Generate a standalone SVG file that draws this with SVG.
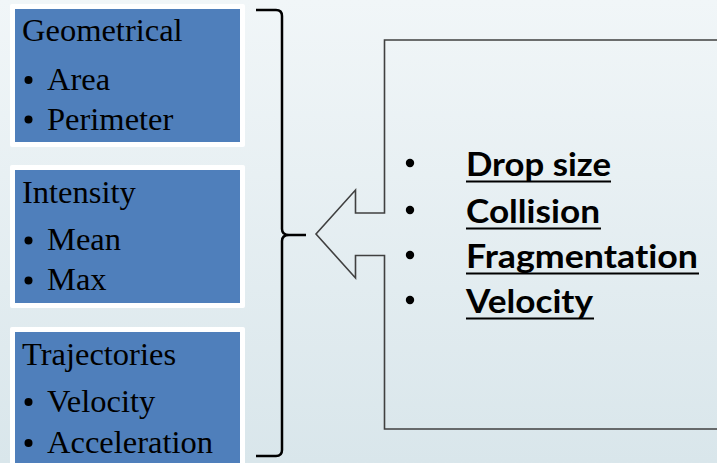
<svg xmlns="http://www.w3.org/2000/svg" width="717" height="463" viewBox="0 0 717 463">
<defs>
<linearGradient id="bg" x1="0" y1="0" x2="0" y2="1">
<stop offset="0" stop-color="#f1f6f8"/>
<stop offset="1" stop-color="#d9e6eb"/>
</linearGradient>
</defs>
<style>
.box-outer{fill:#ffffff;}
.box-inner{fill:#4f7fbb;}
.lt{font-family:"Liberation Serif","Times New Roman",serif;font-size:32.5px;fill:#000;}
.rt{font-family:Lato,"Liberation Sans",sans-serif;font-weight:bold;font-size:33px;fill:#000;font-variant-ligatures:none;font-feature-settings:"liga" 0,"clig" 0,"dlig" 0;}
.ul{stroke:#000;stroke-width:2.2;}
.dot{fill:#000;}
.brace{fill:none;stroke:#000;stroke-width:2.5;stroke-linejoin:round;stroke-linecap:butt;}
.callout{fill:none;stroke:#404040;stroke-width:1.6;}
</style>
<rect x="0" y="0" width="717" height="463" fill="url(#bg)"/>

<g id="geometrical">
<rect class="box-outer" x="10" y="4" width="235" height="143" rx="2"/>
<rect class="box-inner" x="15" y="9" width="225" height="133"/>
<text class="lt" x="22" y="40.5">Geometrical</text>
<circle class="dot" cx="28.5" cy="80" r="4"/>
<text class="lt" x="47" y="89.5">Area</text>
<circle class="dot" cx="28.5" cy="119.5" r="4"/>
<text class="lt" x="47" y="129.5">Perimeter</text>
</g>

<g id="intensity">
<rect class="box-outer" x="10" y="165" width="235" height="143" rx="2"/>
<rect class="box-inner" x="15" y="170" width="225" height="133"/>
<text class="lt" x="22" y="203">Intensity</text>
<circle class="dot" cx="28.5" cy="240.5" r="4"/>
<text class="lt" x="47" y="250">Mean</text>
<circle class="dot" cx="28.5" cy="280.5" r="4"/>
<text class="lt" x="47" y="290">Max</text>
</g>

<g id="trajectories">
<rect class="box-outer" x="10" y="327" width="235" height="150" rx="2"/>
<rect class="box-inner" x="15" y="332" width="225" height="140"/>
<text class="lt" x="22" y="365">Trajectories</text>
<circle class="dot" cx="28.5" cy="402" r="4"/>
<text class="lt" x="47" y="411.5">Velocity</text>
<circle class="dot" cx="28.5" cy="443" r="4"/>
<text class="lt" x="47" y="452.5">Acceleration</text>
</g>

<g id="connectors">
<path class="brace" d="M256,10 L276,10 Q282,10 282,16 L282,229 Q282,235 289,235 Q282,235 282,241 L282,450 Q282,456 276,456 L256,456 M289,235 L306,235"/>
</g>

<g id="features">
<path class="callout" d="M722,40 L384.5,40 L384.5,213 L355.5,213 L355.5,190 L316,234 L355.5,278 L355.5,255.5 L384.5,255.5 L384.5,429 L722,429"/>
<circle class="dot" cx="410" cy="163" r="4.2"/>
<text class="rt" x="466" y="176" textLength="145" lengthAdjust="spacingAndGlyphs">Drop size</text>
<line class="ul" x1="466" y1="181.5" x2="611" y2="181.5"/>
<circle class="dot" cx="410" cy="210" r="4.2"/>
<text class="rt" x="466" y="223" textLength="134" lengthAdjust="spacingAndGlyphs">Collision</text>
<line class="ul" x1="466" y1="228.5" x2="601" y2="228.5"/>
<circle class="dot" cx="410" cy="255" r="4.2"/>
<text class="rt" x="466" y="268" textLength="232" lengthAdjust="spacingAndGlyphs">Fragmentation</text>
<line class="ul" x1="466" y1="273.5" x2="699" y2="273.5"/>
<circle class="dot" cx="410" cy="300" r="4.2"/>
<text class="rt" x="466" y="313" textLength="127" lengthAdjust="spacingAndGlyphs">Velocity</text>
<line class="ul" x1="466" y1="318.5" x2="594" y2="318.5"/>
</g>
</svg>
